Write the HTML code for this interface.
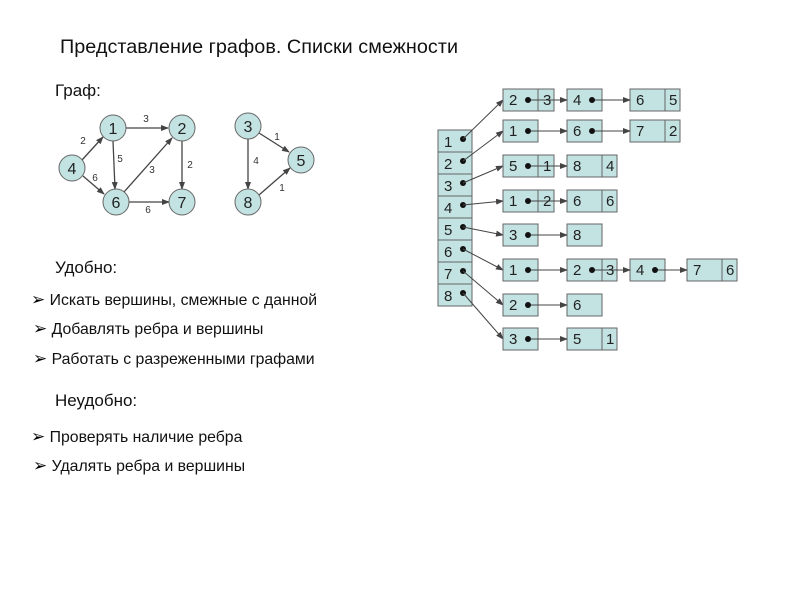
<!DOCTYPE html>
<html><head><meta charset="utf-8"><style>
body{margin:0;background:#fff;width:800px;height:600px;overflow:hidden}
svg{display:block}
text{font-family:"Liberation Sans",sans-serif}
</style></head><body>
<svg width="800" height="600" viewBox="0 0 800 600">
<defs><marker id="a" markerWidth="8" markerHeight="6" refX="7" refY="3" orient="auto" markerUnits="userSpaceOnUse"><path d="M0,0L8,3L0,6z" fill="#444"/></marker></defs>
<g fill="#111">
<text x="60" y="53" font-size="19.8" textLength="398">Представление графов. Списки смежности</text>
<text x="55" y="96" font-size="17">Граф:</text>
<text x="55" y="273" font-size="17">Удобно:</text>
<text x="55" y="406" font-size="17">Неудобно:</text>
<g font-size="15.8">
<text x="31" y="305"><tspan font-size="17" fill="#000">➢</tspan> <tspan>Искать вершины, смежные с данной</tspan></text>
<text x="33" y="334"><tspan font-size="17" fill="#000">➢</tspan> Добавлять ребра и вершины</text>
<text x="33" y="364"><tspan font-size="17" fill="#000">➢</tspan> Работать с разреженными графами</text>
<text x="31" y="442"><tspan font-size="17" fill="#000">➢</tspan> Проверять наличие ребра</text>
<text x="33" y="471"><tspan font-size="17" fill="#000">➢</tspan> Удалять ребра и вершины</text>
</g></g>
<g stroke="#444" stroke-width="1.3" fill="none" marker-end="url(#a)">
<line x1="126" y1="128" x2="168" y2="128"/>
<line x1="82" y1="160" x2="103" y2="137"/>
<line x1="83" y1="176" x2="104" y2="194"/>
<line x1="113" y1="141" x2="115" y2="189"/>
<line x1="124" y1="192" x2="172" y2="138"/>
<line x1="182" y1="141" x2="182" y2="189"/>
<line x1="129" y1="202" x2="169" y2="202"/>
<line x1="259" y1="133" x2="289" y2="152"/>
<line x1="248" y1="139" x2="248" y2="189"/>
<line x1="259" y1="195" x2="290" y2="168"/>
</g>
<g fill="#c3e2e2" stroke="#666" stroke-width="1">
<circle cx="113" cy="128" r="13"/><circle cx="182" cy="128" r="13"/>
<circle cx="72" cy="168" r="13"/><circle cx="116" cy="202" r="13"/>
<circle cx="182" cy="202" r="13"/><circle cx="248" cy="126" r="13"/>
<circle cx="301" cy="160" r="13"/><circle cx="248" cy="202" r="13"/>
</g>
<g font-size="16" text-anchor="middle" fill="#222">
<text x="113" y="134">1</text><text x="182" y="134">2</text><text x="72" y="174">4</text>
<text x="116" y="208">6</text><text x="182" y="208">7</text><text x="248" y="132">3</text>
<text x="301" y="166">5</text><text x="248" y="208">8</text>
</g>
<g font-size="10" fill="#333" text-anchor="middle">
<text x="146" y="122">3</text><text x="83" y="144">2</text><text x="95" y="181">6</text>
<text x="120" y="162">5</text><text x="152" y="173">3</text><text x="190" y="168">2</text>
<text x="148" y="213">6</text><text x="277" y="140">1</text><text x="256" y="164">4</text>
<text x="282" y="191">1</text>
</g>
<g fill="#c3e2e2" stroke="#666">
<rect x="438" y="130" width="34" height="22"/><rect x="438" y="152" width="34" height="22"/>
<rect x="438" y="174" width="34" height="22"/><rect x="438" y="196" width="34" height="22"/>
<rect x="438" y="218" width="34" height="22"/><rect x="438" y="240" width="34" height="22"/>
<rect x="438" y="262" width="34" height="22"/><rect x="438" y="284" width="34" height="22"/>
</g>
<g font-size="15" fill="#222">
<text x="444" y="147">1</text><text x="444" y="169">2</text><text x="444" y="191">3</text><text x="444" y="213">4</text>
<text x="444" y="235">5</text><text x="444" y="257">6</text><text x="444" y="279">7</text><text x="444" y="301">8</text>
</g>
<g fill="#111">
<circle cx="463" cy="139" r="3"/><circle cx="463" cy="161" r="3"/><circle cx="463" cy="183" r="3"/><circle cx="463" cy="205" r="3"/>
<circle cx="463" cy="227" r="3"/><circle cx="463" cy="249" r="3"/><circle cx="463" cy="271" r="3"/><circle cx="463" cy="293" r="3"/>
</g>
<g stroke="#444" stroke-width="1" fill="none" marker-end="url(#a)">
<line x1="463" y1="139" x2="503" y2="100"/>
<line x1="463" y1="161" x2="503" y2="131"/>
<line x1="463" y1="183" x2="503" y2="166"/>
<line x1="463" y1="205" x2="503" y2="201"/>
<line x1="463" y1="227" x2="503" y2="235"/>
<line x1="463" y1="249" x2="503" y2="270"/>
<line x1="463" y1="271" x2="503" y2="305"/>
<line x1="463" y1="293" x2="503" y2="339"/>
</g>
<g fill="#c3e2e2" stroke="#666">
<rect x="503" y="89" width="51" height="22"/><rect x="567" y="89" width="35" height="22"/><rect x="630" y="89" width="50" height="22"/>
<rect x="503" y="120" width="35" height="22"/><rect x="567" y="120" width="35" height="22"/><rect x="630" y="120" width="50" height="22"/>
<rect x="503" y="155" width="51" height="22"/><rect x="567" y="155" width="50" height="22"/>
<rect x="503" y="190" width="51" height="22"/><rect x="567" y="190" width="50" height="22"/>
<rect x="503" y="224" width="35" height="22"/><rect x="567" y="224" width="35" height="22"/>
<rect x="503" y="259" width="35" height="22"/><rect x="567" y="259" width="50" height="22"/><rect x="630" y="259" width="35" height="22"/><rect x="687" y="259" width="50" height="22"/>
<rect x="503" y="294" width="35" height="22"/><rect x="567" y="294" width="35" height="22"/>
<rect x="503" y="328" width="35" height="22"/><rect x="567" y="328" width="50" height="22"/>
</g>
<g stroke="#666">
<line x1="538" y1="89" x2="538" y2="111"/><line x1="665" y1="89" x2="665" y2="111"/>
<line x1="665" y1="120" x2="665" y2="142"/>
<line x1="538" y1="155" x2="538" y2="177"/><line x1="602" y1="155" x2="602" y2="177"/>
<line x1="538" y1="190" x2="538" y2="212"/><line x1="602" y1="190" x2="602" y2="212"/>
<line x1="602" y1="259" x2="602" y2="281"/><line x1="722" y1="259" x2="722" y2="281"/>
<line x1="602" y1="328" x2="602" y2="350"/>
</g>
<g stroke="#444" stroke-width="1" marker-end="url(#a)">
<line x1="528" y1="100" x2="567" y2="100"/><line x1="592" y1="100" x2="630" y2="100"/>
<line x1="528" y1="131" x2="567" y2="131"/><line x1="592" y1="131" x2="630" y2="131"/>
<line x1="528" y1="166" x2="567" y2="166"/>
<line x1="528" y1="201" x2="567" y2="201"/>
<line x1="528" y1="235" x2="567" y2="235"/>
<line x1="528" y1="270" x2="567" y2="270"/><line x1="592" y1="270" x2="630" y2="270"/><line x1="655" y1="270" x2="687" y2="270"/>
<line x1="528" y1="305" x2="567" y2="305"/>
<line x1="528" y1="339" x2="567" y2="339"/>
</g>
<g fill="#111">
<circle cx="528" cy="100" r="3"/><circle cx="592" cy="100" r="3"/>
<circle cx="528" cy="131" r="3"/><circle cx="592" cy="131" r="3"/>
<circle cx="528" cy="166" r="3"/><circle cx="528" cy="201" r="3"/><circle cx="528" cy="235" r="3"/>
<circle cx="528" cy="270" r="3"/><circle cx="592" cy="270" r="3"/><circle cx="655" cy="270" r="3"/>
<circle cx="528" cy="305" r="3"/><circle cx="528" cy="339" r="3"/>
</g>
<g font-size="15" fill="#222">
<text x="509" y="105">2</text><text x="543" y="105">3</text><text x="573" y="105">4</text><text x="636" y="105">6</text><text x="669" y="105">5</text>
<text x="509" y="136">1</text><text x="573" y="136">6</text><text x="636" y="136">7</text><text x="669" y="136">2</text>
<text x="509" y="171">5</text><text x="543" y="171">1</text><text x="573" y="171">8</text><text x="606" y="171">4</text>
<text x="509" y="206">1</text><text x="543" y="206">2</text><text x="573" y="206">6</text><text x="606" y="206">6</text>
<text x="509" y="240">3</text><text x="573" y="240">8</text>
<text x="509" y="275">1</text><text x="573" y="275">2</text><text x="606" y="275">3</text><text x="636" y="275">4</text><text x="693" y="275">7</text><text x="726" y="275">6</text>
<text x="509" y="310">2</text><text x="573" y="310">6</text>
<text x="509" y="344">3</text><text x="573" y="344">5</text><text x="606" y="344">1</text>
</g>
</svg>
</body></html>
